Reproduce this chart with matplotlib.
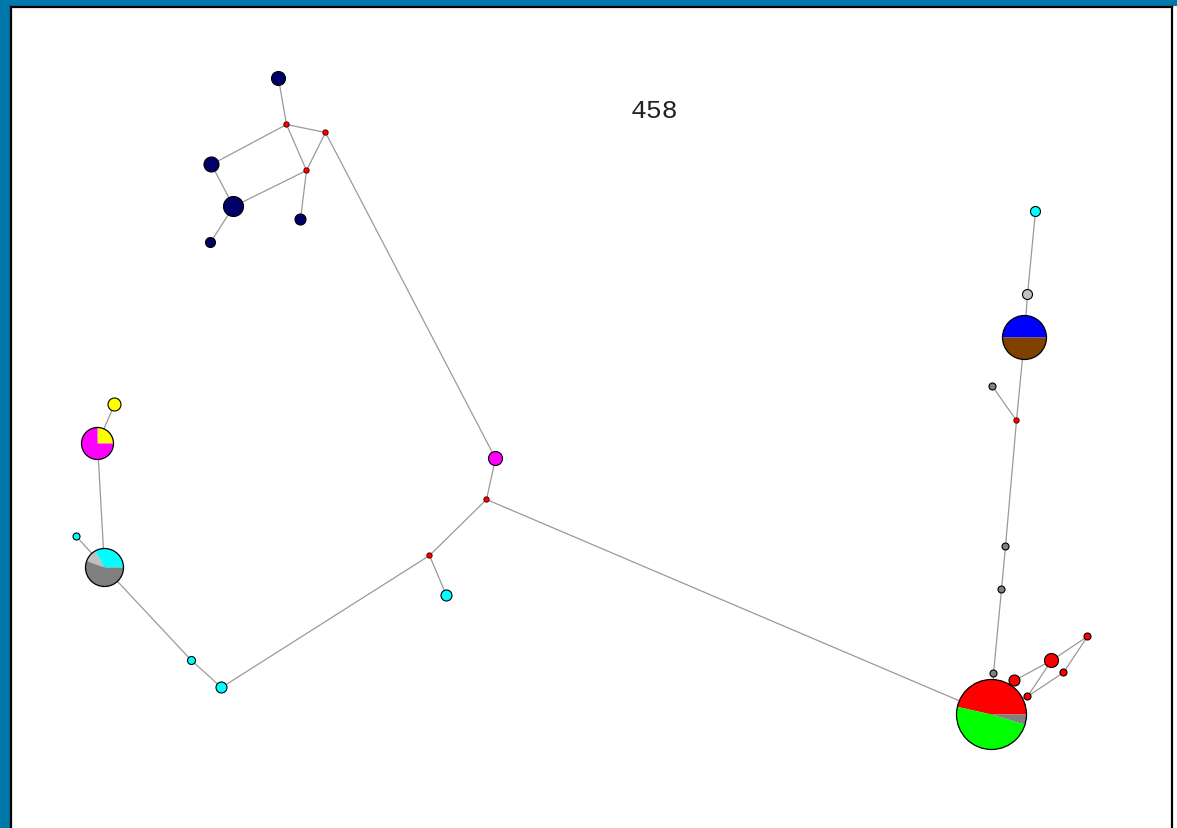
import matplotlib
matplotlib.use("Agg")
import matplotlib.pyplot as plt
from matplotlib.patches import Wedge, Circle, Rectangle

# ---------------- data ----------------
title = "458"

# haplotype / median-vector nodes: id -> (x, y) in picture pixels
node_ids = ["N1", "M1", "M2", "M3", "N2", "N3", "N4", "N5",
            "MAG", "M4", "M5", "C1", "C2", "C3", "PGC", "C4", "PMY", "Y1",
            "C5", "LG1", "PBB", "M6", "G1", "G2", "G3", "G4", "PBIG",
            "R1", "R2", "R3", "R4", "R5"]
node_x = [278, 286, 325, 306, 211, 233, 300, 210,
          495, 486, 429, 446, 221, 191, 104, 76, 97, 114,
          1035, 1027, 1024, 1016, 992, 1005, 1001, 993, 991,
          1014, 1051, 1087, 1063, 1027]
node_y = [79, 125, 133, 171, 165, 207, 220, 243,
          459, 500, 556, 596, 688, 661, 568, 537, 444, 405,
          212, 295, 338, 421, 387, 547, 590, 674, 715,
          681, 661, 637, 673, 697]
node_radius = [7, 2.6, 2.6, 2.6, 7.5, 10, 5.5, 5,
               7, 2.6, 2.6, 5.5, 5.5, 4, 19, 3.5, 16, 6.5,
               5, 5, 22, 2.6, 3.5, 3.5, 3.5, 3.5, 35,
               5.5, 7, 3.5, 3.5, 3.5]
# composition: list of (colour, count); wedges start east, go anticlockwise
node_parts = [
    [("#000066", 1)], [("#FF0000", 1)], [("#FF0000", 1)], [("#FF0000", 1)],
    [("#000066", 1)], [("#000066", 1)], [("#000066", 1)], [("#000066", 1)],
    [("#FF00FF", 1)], [("#FF0000", 1)], [("#FF0000", 1)], [("#00FFFF", 1)],
    [("#00FFFF", 1)], [("#00FFFF", 1)],
    [("#00FFFF", 3), ("#C0C0C0", 1), ("#808080", 5)],
    [("#00FFFF", 1)],
    [("#FFFF00", 1), ("#FF00FF", 3)],
    [("#FFFF00", 1)],
    [("#00FFFF", 1)], [("#C0C0C0", 1)],
    [("#0000FF", 1), ("#804000", 1)],
    [("#FF0000", 1)], [("#808080", 1)], [("#808080", 1)], [("#808080", 1)],
    [("#808080", 1)],
    [("#FF0000", 20), ("#00FF00", 21), ("#808080", 2)],
    [("#FF0000", 1)], [("#FF0000", 1)], [("#FF0000", 1)], [("#FF0000", 1)],
    [("#FF0000", 1)],
]

edges_from = ["N1", "M1", "M1", "M1", "M2", "M3", "M3", "N2", "N3", "M2",
              "MAG", "M4", "M4", "M5", "M5", "C2", "C3", "PGC", "PGC", "PMY",
              "C5", "LG1", "PBB", "M6", "M6", "G2", "G3", "G4",
              "R1", "R2", "R2", "R3", "R4", "R5"]
edges_to = ["M1", "M2", "N2", "M3", "M3", "N3", "N4", "N3", "N5", "MAG",
            "M4", "M5", "PBIG", "C1", "C2", "C3", "PGC", "C4", "PMY", "Y1",
            "LG1", "PBB", "M6", "G1", "G2", "G3", "G4", "PBIG",
            "R2", "R3", "R5", "R4", "R5", "PBIG"]

# ---------------- figure ----------------
W, H = 1177, 829
fig = plt.figure(figsize=(W / 100, H / 100), dpi=100, facecolor="white")
ax = fig.add_axes([0, 0, 1, 1])
ax.set_xlim(-0.5, W - 0.5)
ax.set_ylim(H - 0.5, -0.5)
ax.set_axis_off()

# frame
band = "#0077AA"
ax.add_patch(Rectangle((-1, -1), W + 2, 7.5, facecolor=band, edgecolor="none", zorder=0))
ax.add_patch(Rectangle((-1, -1), 10.5, H + 2, facecolor=band, edgecolor="none", zorder=0))
ax.plot([10, 10], [7, H], color="black", lw=1.6, zorder=1)
ax.plot([10, 1171], [7, 7], color="black", lw=1.6, zorder=1)
ax.plot([1171, 1171], [7, H], color="black", lw=1.6, zorder=1)

pos = {n: (x, y) for n, x, y in zip(node_ids, node_x, node_y)}

for a, b in zip(edges_from, edges_to):
    (x1, y1), (x2, y2) = pos[a], pos[b]
    ax.plot([x1, x2], [y1, y2], color="#9A9A9A", lw=0.9, zorder=2,
            solid_capstyle="butt")

for n, x, y, r, parts in zip(node_ids, node_x, node_y, node_radius, node_parts):
    total = sum(c for _, c in parts)
    start = 0.0
    if len(parts) == 1:
        ec = "#660000" if (r < 3 and parts[0][0] == "#FF0000") else "black"
        ax.add_patch(Circle((x, y), r, facecolor=parts[0][0],
                            edgecolor=ec, lw=0.8, zorder=3))
        continue
    for col, c in parts:
        span = 360.0 * c / total
        # y axis is inverted: screen angle t -> data angle -t
        ax.add_patch(Wedge((x, y), r, -(start + span), -start,
                           facecolor=col, edgecolor="none", zorder=3))
        start += span
    ax.add_patch(Circle((x, y), r, facecolor="none", edgecolor="black",
                        lw=0.9, zorder=4))

ax.text(654, 111, title, ha="center", va="center", fontsize=19,
        family=["Liberation Mono", "DejaVu Sans Mono"], color="#222222",
        zorder=5)

fig.savefig("out.png", dpi=100, facecolor=fig.get_facecolor())
